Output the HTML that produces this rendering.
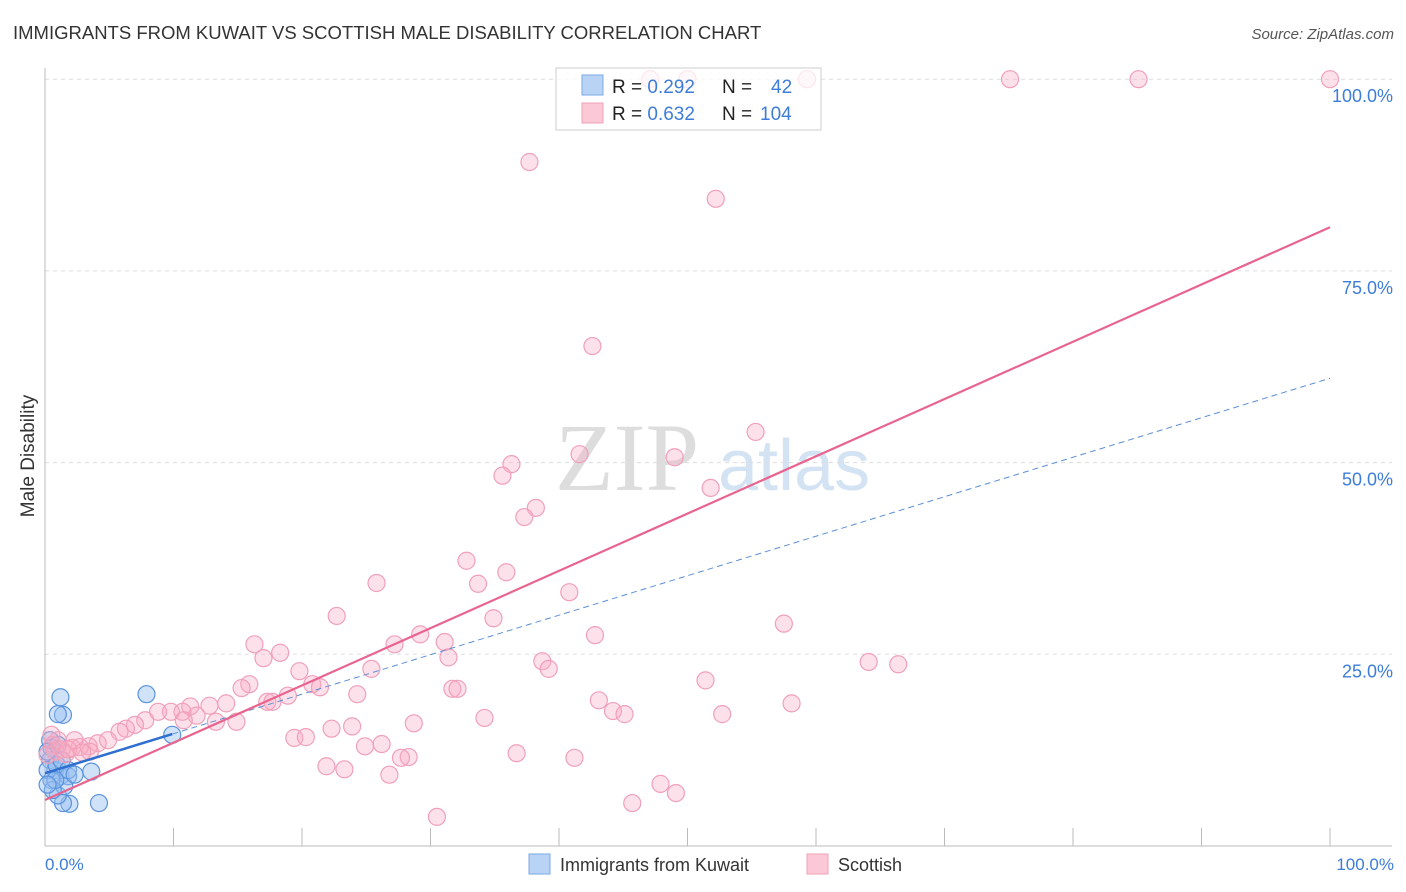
<!DOCTYPE html>
<html><head><meta charset="utf-8"><style>
body{margin:0;background:#fff;font-family:"Liberation Sans",sans-serif}
svg{display:block}
</style></head><body>
<svg width="1406" height="892">
<text x="13" y="39" font-size="18.5" fill="#333">IMMIGRANTS FROM KUWAIT VS SCOTTISH MALE DISABILITY CORRELATION CHART</text>
<text x="1394" y="39" font-size="15" fill="#555" font-style="italic" text-anchor="end">Source: ZipAtlas.com</text>
<g>
<text x="555" y="490" font-family="Liberation Serif,serif" font-size="96" fill="#ddd">ZIP</text>
<text x="718" y="490" font-size="72" fill="#d4e3f3">atlas</text>
</g>
<g id="grid"></g>
<line x1="45" y1="68" x2="45" y2="846" stroke="#bbb"/>
<line x1="45" y1="846" x2="1392" y2="846" stroke="#bbb"/>
<g id="ticks"></g>
<text transform="translate(34,456) rotate(-90)" font-size="19" fill="#333" text-anchor="middle">Male Disability</text>
<text x="45" y="870" font-size="17" fill="#3d7dd8">0.0%</text>
<text x="1394" y="870" font-size="17" fill="#3d7dd8" text-anchor="end">100.0%</text>
<g id="marks"></g>
<g>
<rect x="556" y="68" width="265" height="62" fill="rgba(255,255,255,0.75)" stroke="#ccc"/>
<rect x="582" y="75" width="21" height="20" fill="#b9d3f5" stroke="#7aa8e6"/>
<rect x="582" y="103" width="21" height="20" fill="#fbc8d6" stroke="#f0a0b8"/>
<text x="612" y="93" font-size="19" fill="#222">R = <tspan fill="#3d7dd8">0.292</tspan><tspan x="722">N = </tspan><tspan x="771" fill="#3d7dd8">42</tspan></text>
<text x="612" y="120" font-size="19" fill="#222">R = <tspan fill="#3d7dd8">0.632</tspan><tspan x="722">N = </tspan><tspan x="760" fill="#3d7dd8">104</tspan></text>
</g>
<g>
<rect x="529" y="854" width="21" height="20" fill="#b9d3f5" stroke="#7aa8e6"/>
<text x="560" y="871" font-size="18" fill="#333">Immigrants from Kuwait</text>
<rect x="807" y="854" width="21" height="20" fill="#fbc8d6" stroke="#f0a0b8"/>
<text x="838" y="871" font-size="18" fill="#333">Scottish</text>
</g>
</svg>
<script>
const yTicks=[25,50,75,100];
const yTickLabels=["25.0%","50.0%","75.0%","100.0%"];
const xTicks=[0,10,20,30,40,50,60,70,80,90,100];
const pinkX=[37.7,52.2,42.6,55.3,41.6,49.0,36.3,35.6,51.8,38.2,37.3,32.8,25.8,33.7,35.9,40.8,22.7,34.9,57.5,29.2,42.8,31.1,27.2,16.3,18.3,31.4,17.0,38.7,64.1,66.4,39.2,25.4,19.8,51.4,20.8,21.4,15.9,15.3,31.7,32.1,24.3,18.9,43.1,17.3,17.7,58.1,44.2,45.1,52.7,14.1,12.8,11.3,10.7,11.8,9.8,8.8,34.2,28.7,14.9,13.3,10.8,7.8,7.0,6.3,23.9,22.3,5.8,19.4,20.3,4.9,4.1,26.2,24.9,3.4,2.7,2.1,1.3,0.6,0.8,1.6,36.7,28.3,27.7,41.2,21.9,23.3,26.8,47.9,49.1,45.7,30.5,47.1,50.0,59.3,75.1,85.1,100,1.0,0.2,2.3,3.5,0.5,1.8,2.9];
const pinkY=[89.2,84.4,65.2,54.0,51.1,50.7,49.8,48.3,46.7,44.1,42.9,37.2,34.3,34.2,35.7,33.1,30.0,29.7,29.0,27.6,27.5,26.6,26.3,26.3,25.2,24.6,24.5,24.1,24.0,23.7,23.1,23.1,22.8,21.6,21.1,20.7,21.1,20.6,20.5,20.5,19.8,19.6,19.0,18.8,18.8,18.6,17.6,17.2,17.2,18.6,18.3,18.2,17.5,17.0,17.5,17.5,16.7,16.0,16.2,16.2,16.4,16.4,15.8,15.3,15.6,15.3,14.9,14.1,14.2,13.8,13.4,13.3,13.0,13.0,12.9,12.8,12.6,13.2,12.3,12.0,12.1,11.6,11.5,11.5,10.4,10.0,9.3,8.1,6.9,5.6,3.8,100,100,100,100,100,100,13.8,11.9,13.8,12.3,14.5,12.6,12.2];
const blueX=[1.2,7.9,1.4,1.0,9.9,3.6,4.2,1.9,1.4,1.0,0.5,0.4,0.8,1.2,1.8,1.5,0.5,0.2,0.9,1.3,0.4,0.2,1.0,0.6,1.8,2.3,0.8,0.2];
const blueY=[19.4,19.8,17.1,17.2,14.5,9.7,5.6,5.5,5.6,6.6,12.8,11.2,9.9,9.1,9.1,7.8,8.6,9.9,10.6,11.2,13.8,12.3,13.2,7.3,9.9,9.3,8.6,8.0];
const pinkTrend=[6.0,80.7];
const blueTrend=[9.5,0.515];
const NS="http://www.w3.org/2000/svg";
const sx=v=>45+v*12.85, sy=v=>846-v*7.668;
function mk(tag,at,parent){const e=document.createElementNS(NS,tag);for(const k in at)e.setAttribute(k,at[k]);parent.appendChild(e);return e;}
const grid=document.getElementById('grid'),ticks=document.getElementById('ticks'),marks=document.getElementById('marks');
yTicks.forEach((t,i)=>{
 const l=mk('line',{x1:45,x2:1392,y1:sy(t),y2:sy(t),stroke:'#ddd','stroke-dasharray':'4,4'},grid);
 
 
 const tx=mk('text',{x:1393,y:sy(t)+23,'font-size':18,fill:'#3d7dd8','text-anchor':'end'},ticks);
 tx.textContent=yTickLabels[i];
 
 
});
xTicks.forEach(t=>{
 const l=mk('line',{x1:sx(t),x2:sx(t),y1:828,y2:846,stroke:'#bbb'},ticks);
 
 
});
blueX.forEach((x,i)=>{
 const c=mk('circle',{cx:sx(x),cy:sy(blueY[i]),r:8.5,fill:'rgba(150,190,240,0.45)',stroke:'#5b93dd','stroke-width':1.2},marks);
 
 
});
pinkX.forEach((x,i)=>{
 const c=mk('circle',{cx:sx(x),cy:sy(pinkY[i]),r:8.5,fill:'rgba(248,170,195,0.35)',stroke:'#f0a0b8','stroke-width':1.2},marks);
 
 
});
const bd=mk('line',{x1:sx(9.9),y1:sy(blueTrend[0]+blueTrend[1]*9.9),x2:sx(100),y2:sy(blueTrend[0]+blueTrend[1]*100),stroke:'#5b8fd6','stroke-width':1,'stroke-dasharray':'6,4'},marks);


const bs=mk('line',{x1:sx(0),y1:sy(blueTrend[0]),x2:sx(9.9),y2:sy(blueTrend[0]+blueTrend[1]*9.9),stroke:'#2f6fd0','stroke-width':2.5},marks);


const pl=mk('line',{x1:sx(0),y1:sy(pinkTrend[0]),x2:sx(100),y2:sy(pinkTrend[1]),stroke:'#e8648e','stroke-width':2.2},marks);


</script>
</body></html>
